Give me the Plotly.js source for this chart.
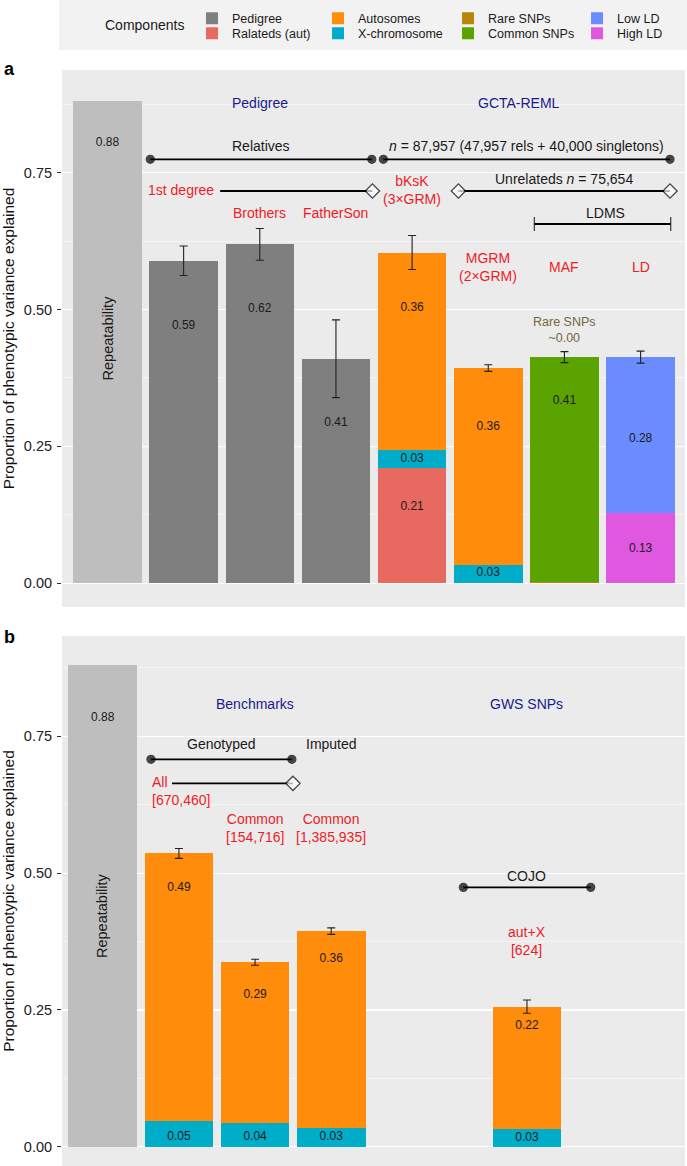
<!DOCTYPE html>
<html>
<head>
<meta charset="utf-8">
<script src="https://cdn.plot.ly/plotly-3.0.1.min.js"></script>
<style>
  body { margin: 0; background: white; }
  #chart { width: 687px; height: 1166px; }
</style>
</head>
<body>
<div id="chart"></div>
<script>
// ---- panel a values ----
const aRepeat = [0.88];
const aPedX = [2, 3, 4];            // 1st degree, Brothers, FatherSon
const aPedigree = [0.589, 0.619, 0.41];
const aRelateds = [0.211];          // bKsK
const aXchrom = [0.033, 0.034];     // bKsK, MGRM
const aAutosomes = [0.36, 0.359];
const aRareSNPs = [0.002];          // MAF
const aCommonSNPs = [0.411];
const aHighLD = [0.129];            // LD
const aLowLD = [0.284];
const aErrX = [2, 3, 4, 5, 6, 7, 8];
const aErr = [0.027, 0.029, 0.071, 0.031, 0.006, 0.010, 0.011];

// ---- panel b values ----
const bRepeat = [0.88];
const bX = [2, 3, 4, 6.57];         // All, Common, Common (imputed), aut+X
const bXchrom = [0.047, 0.043, 0.034, 0.032];
const bAutosomes = [0.489, 0.294, 0.36, 0.224];
const bErr = [0.009, 0.0055, 0.006, 0.012];

const FONT = '"Liberation Sans", Arial, sans-serif';
const RED = '#ee1c25';
const NAVY = '#1a1a8c';
const colors = {
  repeat: '#bebebe', pedigree: '#7f7f7f', relateds: '#e8695f', auto: '#ff8c0a',
  xchr: '#00adc9', rare: '#b8860b', common: '#5aa300', low: '#6b8cff', high: '#e057e0'
};

function bar(name, x, y, color, xa, ya, legend, showlegend, extra) {
  return Object.assign({
    type: 'bar', name: name, x: x, y: y, width: 0.9,
    xaxis: xa, yaxis: ya, legend: legend, showlegend: showlegend,
    marker: { color: color, line: { width: 0 } },
    hoverinfo: 'skip'
  }, extra || {});
}

const barsA = [
  bar('Repeatability', [1], aRepeat, colors.repeat, 'x', 'y', 'legend', false),
  bar('Pedigree', aPedX, aPedigree, colors.pedigree, 'x', 'y', 'legend', true, { legendwidth: 81 }),
  bar('Ralateds (aut)', [5], aRelateds, colors.relateds, 'x', 'y', 'legend2', true, { legendwidth: 81 }),
  bar('X-chromosome', [5, 6], aXchrom, colors.xchr, 'x', 'y', 'legend2', true, { legendwidth: 85 }),
  bar('Autosomes', [5, 6], aAutosomes, colors.auto, 'x', 'y', 'legend', true, { legendwidth: 85 }),
  bar('Rare SNPs', [7], aRareSNPs, colors.rare, 'x', 'y', 'legend', true, { legendwidth: 84 }),
  bar('Common SNPs', [7], aCommonSNPs, colors.common, 'x', 'y', 'legend2', true, { legendwidth: 84 }),
  bar('High LD', [8], aHighLD, colors.high, 'x', 'y', 'legend2', true, { legendwidth: 50 }),
  bar('Low LD', [8], aLowLD, colors.low, 'x', 'y', 'legend', true, { legendwidth: 50 })
];

const barsB = [
  bar('Repeatability', [1], bRepeat, colors.repeat, 'x2', 'y2', 'legend', false),
  bar('X-chromosome', bX, bXchrom, colors.xchr, 'x2', 'y2', 'legend2', false),
  bar('Autosomes', bX, bAutosomes, colors.auto, 'x2', 'y2', 'legend', false)
];

// top of each stack, used for the error bars
function stackTop(bars, x) {
  let s = 0;
  bars.forEach(t => t.x.forEach((xv, i) => { if (xv === x) s += t.y[i]; }));
  return s;
}

function errTrace(bars, xs, errs, xa, ya) {
  return {
    type: 'scatter', mode: 'markers', x: xs, y: xs.map(x => stackTop(bars, x)),
    xaxis: xa, yaxis: ya, showlegend: false, hoverinfo: 'skip',
    marker: { size: 2, opacity: 0 },
    error_y: { type: 'data', array: errs, visible: true, color: '#222', thickness: 1.1, width: 4 }
  };
}

// value labels inside the bars
const aLabelX = [1, 2, 3, 4, 5, 5, 5, 6, 6, 7, 8, 8];
const aLabelVal = [aRepeat[0], aPedigree[0], aPedigree[1], aPedigree[2], aAutosomes[0], aXchrom[0],
  aRelateds[0], aAutosomes[1], aXchrom[1], aCommonSNPs[0], aLowLD[0], aHighLD[0]];
const aLabelY = [0.804, 0.47, 0.50, 0.293, 0.502, 0.227, 0.139, 0.285, 0.018, 0.332, 0.263, 0.063];

const bLabelX = [1, 2, 2, 3, 3, 4, 4, 6.57, 6.57];
const bLabelVal = [bRepeat[0], bAutosomes[0], bXchrom[0], bAutosomes[1], bXchrom[1],
  bAutosomes[2], bXchrom[2], bAutosomes[3], bXchrom[3]];
const bLabelY = [0.783, 0.473, 0.017, 0.278, 0.017, 0.343, 0.017, 0.221, 0.015];

function labelTrace(x, vals, y, xa, ya) {
  return {
    type: 'scatter', mode: 'text', x: x, y: y, text: vals.map(v => v.toFixed(2)),
    xaxis: xa, yaxis: ya, showlegend: false, hoverinfo: 'skip',
    textfont: { family: FONT, size: 12, color: '#1a1a1a' }
  };
}

// connector lines with end markers
const ENDS = {
  dot: { symbol: 'circle', size: 8, color: 'black' },
  diamond: { symbol: 'diamond', size: 11, color: 'white' },
  cap: { symbol: 'line-ns', size: 10, color: 'black' },
  none: { symbol: 'circle', size: 0, color: 'black' }
};
function bracket(x0, x1, y, e0, e1, xa, ya) {
  return {
    type: 'scatter', mode: 'lines+markers', x: [x0, x1], y: [y, y],
    xaxis: xa, yaxis: ya, showlegend: false, hoverinfo: 'skip', cliponaxis: false,
    line: { color: 'black', width: 1.8 },
    marker: {
      symbol: [ENDS[e0].symbol, ENDS[e1].symbol], size: [ENDS[e0].size, ENDS[e1].size],
      color: [ENDS[e0].color, ENDS[e1].color], line: { color: 'black', width: 1.3 }
    }
  };
}

const brackets = [
  bracket(1.562, 4.471, 0.7743, 'dot', 'dot', 'x', 'y'),
  bracket(4.623, 8.386, 0.7743, 'dot', 'dot', 'x', 'y'),
  bracket(2.48, 4.479, 0.7164, 'none', 'diamond', 'x', 'y'),
  bracket(5.608, 8.386, 0.7164, 'diamond', 'diamond', 'x', 'y'),
  bracket(6.605, 8.395, 0.6561, 'cap', 'cap', 'x', 'y'),
  bracket(1.633, 3.483, 0.708, 'dot', 'dot', 'x2', 'y2'),
  bracket(1.909, 3.497, 0.6641, 'none', 'diamond', 'x2', 'y2'),
  bracket(5.735, 7.407, 0.474, 'dot', 'dot', 'x2', 'y2')
];

const data = [].concat(
  barsA, barsB,
  [errTrace(barsA, aErrX, aErr, 'x', 'y'), errTrace(barsB, bX, bErr, 'x2', 'y2')],
  [labelTrace(aLabelX, aLabelVal, aLabelY, 'x', 'y'), labelTrace(bLabelX, bLabelVal, bLabelY, 'x2', 'y2')],
  brackets
);

function note(text, x, y, xa, ya, color, size, extra) {
  return Object.assign({
    text: text, x: x, y: y, xref: xa, yref: ya, showarrow: false,
    xanchor: 'center', yanchor: 'middle',
    font: { family: FONT, size: size || 14, color: color || '#1a1a1a' }
  }, extra || {});
}

const annotations = [
  // panel a
  note('Pedigree', 3, 0.8766, 'x', 'y', NAVY),
  note('GCTA-REML', 6.40, 0.8766, 'x', 'y', NAVY),
  note('Relatives', 3.01, 0.7986, 'x', 'y'),
  note('<i>n</i> = 87,957 (47,957 rels + 40,000 singletons)', 6.505, 0.7986, 'x', 'y'),
  note('1st degree', 1.969, 0.7187, 'x', 'y', RED),
  note('Brothers', 3, 0.6768, 'x', 'y', RED),
  note('FatherSon', 4, 0.6768, 'x', 'y', RED),
  note('bKsK<br>(3×GRM)', 5, 0.719, 'x', 'y', RED),
  note('Unrelateds <i>n</i> = 75,654', 7, 0.7378, 'x', 'y'),
  note('LDMS', 7.533, 0.6768, 'x', 'y'),
  note('MGRM<br>(2×GRM)', 6, 0.578, 'x', 'y', RED),
  note('MAF', 7, 0.578, 'x', 'y', RED),
  note('LD', 8, 0.578, 'x', 'y', RED),
  note('Rare SNPs<br>~0.00', 7, 0.4626, 'x', 'y', '#74683c', 12.5),
  note('Repeatability', 1, 0.448, 'x', 'y', '#1a1a1a', 14.5, { textangle: -90 }),
  // panel b
  note('Benchmarks', 3, 0.810, 'x2', 'y2', NAVY),
  note('GWS SNPs', 6.57, 0.810, 'x2', 'y2', NAVY),
  note('Genotyped', 2.558, 0.7362, 'x2', 'y2'),
  note('Imputed', 4, 0.7362, 'x2', 'y2'),
  note('All<br>[670,460]', 1.624, 0.650, 'x2', 'y2', RED, 14, { xanchor: 'left', align: 'left' }),
  note('Common<br>[154,716]', 3, 0.5828, 'x2', 'y2', RED),
  note('Common<br>[1,385,935]', 4, 0.5828, 'x2', 'y2', RED),
  note('COJO', 6.57, 0.4947, 'x2', 'y2'),
  note('aut+X<br>[624]', 6.57, 0.3763, 'x2', 'y2', RED),
  note('Repeatability', 1, 0.423, 'x2', 'y2', '#1a1a1a', 14.5, { textangle: -90 }),
  // panel letters and legend heading
  note('<b>a</b>', -0.0963, 0.9408, 'paper', 'paper', 'black', 18, { xanchor: 'left' }),
  note('<b>b</b>', -0.0963, 0.4537, 'paper', 'paper', 'black', 18, { xanchor: 'left' }),
  note('Components', 0.1332, 0.9786, 'paper', 'paper', '#1a1a1a', 14)
];

function yAxis(domain, range, anchor) {
  return {
    domain: domain, range: range, anchor: anchor, fixedrange: true,
    tickvals: [0, 0.25, 0.5, 0.75], ticktext: ['0.00', '0.25', '0.50', '0.75'],
    ticks: 'outside', ticklen: 4, tickwidth: 1, tickcolor: '#333', ticklabelstandoff: 2,
    tickfont: { family: FONT, size: 14.5, color: '#222' },
    showgrid: true, gridcolor: 'white', gridwidth: 1.2, zeroline: false, showline: false,
    minor: { tickvals: [0.125, 0.375, 0.625, 0.875], showgrid: true, gridcolor: 'white', gridwidth: 0.5, ticks: '' },
    title: { text: 'Proportion of phenotypic variance explained', font: { family: FONT, size: 15.5, color: '#111' }, standoff: 6 },
    automargin: false
  };
}

function xAxis(range, anchor) {
  return {
    range: range, anchor: anchor, fixedrange: true, showticklabels: false,
    showgrid: false, zeroline: false, showline: false, ticks: ''
  };
}

const legendBase = {
  orientation: 'h', traceorder: 'normal', x: 0.2087, xanchor: 'left', yanchor: 'top',
  bgcolor: 'rgba(0,0,0,0)', borderwidth: 0, itemclick: false, itemdoubleclick: false,
  font: { family: FONT, size: 12.5, color: '#1a1a1a' }
};

const layout = {
  width: 687, height: 1166,
  margin: { l: 62, r: 2, t: 0, b: 0 },
  paper_bgcolor: 'white', plot_bgcolor: '#ebebeb',
  font: { family: FONT, size: 14, color: '#1a1a1a' },
  barmode: 'stack',
  xaxis: xAxis([0.403, 8.583], 'y'),
  yaxis: yAxis([0.4794, 0.94], [-0.0433, 0.9374], 'x'),
  xaxis2: xAxis([0.465, 8.645], 'y2'),
  yaxis2: yAxis([0, 0.4545], [-0.0353, 0.9333], 'x2'),
  legend: Object.assign({}, legendBase, { y: 0.9968 }),
  legend2: Object.assign({}, legendBase, { y: 0.9840 }),
  shapes: [{
    type: 'rect', xref: 'paper', yref: 'paper', x0: -0.0048, x1: 1.0032, y0: 0.95712, y1: 1,
    fillcolor: '#f2f2f2', line: { width: 0 }, layer: 'below'
  }],
  annotations: annotations
};

Plotly.newPlot('chart', data, layout, { displayModeBar: false, staticPlot: true });
</script>
</body>
</html>
